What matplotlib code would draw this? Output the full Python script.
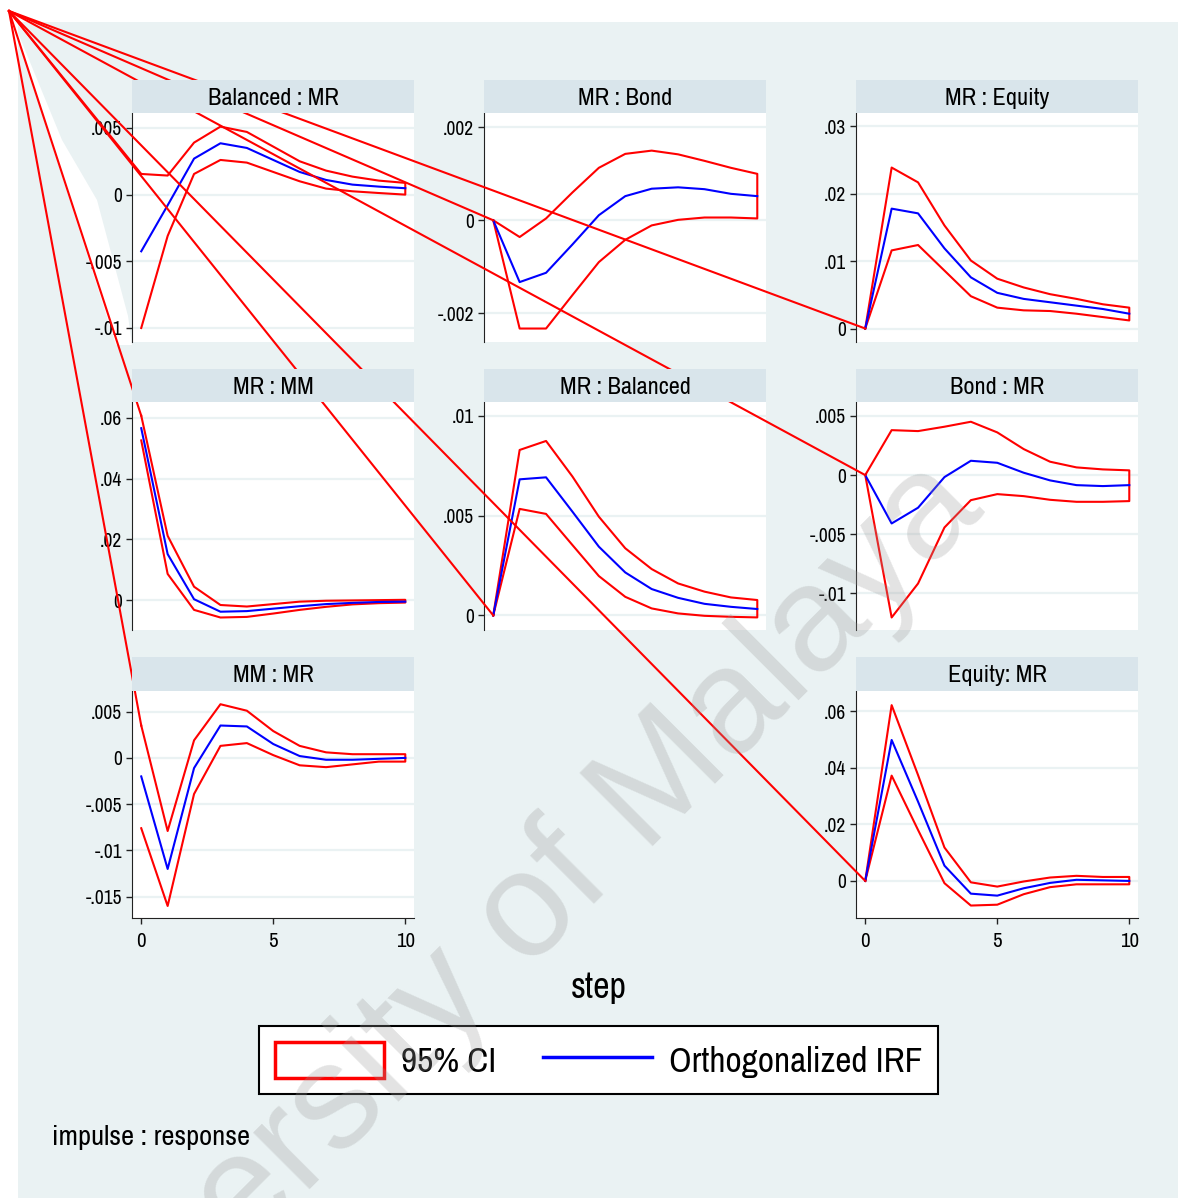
import matplotlib.pyplot as plt
from matplotlib import font_manager
from matplotlib.patches import Patch, Polygon, Rectangle
from matplotlib.lines import Line2D

# Stata draws with a narrow sans; use one if it is installed, else shrink Liberation Sans
names = sorted({f.name for f in font_manager.fontManager.ttflist})
narrow = [n for n in names if 'Narrow' in n] + [n for n in names if 'Condensed' in n]
if narrow:
    plt.rcParams['font.family'] = [narrow[0], 'Liberation Sans', 'DejaVu Sans']
    fs = 1.0
else:
    plt.rcParams['font.family'] = ['Liberation Sans', 'DejaVu Sans']
    fs = 0.85

W, H = 1185, 1198
steps = list(range(11))

titles = ['Balanced : MR', 'MR : Bond', 'MR : Equity', 'MR : MM', 'MR : Balanced',
          'Bond : MR', 'MM : MR', 'Equity: MR']

# Balanced : MR
bal_mr_hi = [0.00155, 0.00143, 0.0039, 0.0051, 0.0047, 0.0036, 0.0025, 0.0018, 0.00135, 0.00105, 0.00088]
bal_mr_irf = [-0.00425, -0.0008, 0.0027, 0.00385, 0.0035, 0.0026, 0.0017, 0.0011, 0.00075, 0.0006, 0.00048]
bal_mr_lo = [-0.01, -0.0031, 0.00155, 0.0026, 0.0024, 0.0017, 0.001, 0.00045, 0.00025, 0.00012, 0.0]
# MR : Bond
mr_bond_hi = [0, -0.00036, 0.00004, 0.0006, 0.00113, 0.00143, 0.0015, 0.00142, 0.00128, 0.00113, 0.001]
mr_bond_irf = [0, -0.00133, -0.00113, -0.00052, 0.00011, 0.00052, 0.00068, 0.00071, 0.00067, 0.00057, 0.00052]
mr_bond_lo = [0, -0.00233, -0.00233, -0.00161, -0.0009, -0.00042, -0.00011, 0.00001, 0.00006, 0.00006, 0.00004]
# MR : Equity
mr_eq_hi = [0, 0.0239, 0.0217, 0.0153, 0.0101, 0.0074, 0.0061, 0.0051, 0.0044, 0.0036, 0.0031]
mr_eq_irf = [0, 0.0178, 0.0171, 0.0119, 0.0076, 0.0053, 0.0044, 0.0039, 0.0034, 0.0029, 0.0022]
mr_eq_lo = [0, 0.0116, 0.0124, 0.0086, 0.0048, 0.0031, 0.0027, 0.0026, 0.0022, 0.0017, 0.0012]
# MR : MM
mr_mm_hi = [0.0606, 0.0212, 0.0045, -0.0015, -0.002, -0.0012, -0.0004, -0.0001, 0.0, 0.0001, 0.0002]
mr_mm_irf = [0.0565, 0.0152, 0.0004, -0.0037, -0.0035, -0.0027, -0.0019, -0.0012, -0.0008, -0.0005, -0.0004]
mr_mm_lo = [0.0525, 0.0087, -0.0031, -0.0056, -0.0054, -0.0043, -0.0031, -0.0021, -0.0013, -0.0009, -0.0007]
# MR : Balanced
mr_bal_hi = [0, 0.00828, 0.00873, 0.00695, 0.00494, 0.00336, 0.00232, 0.0016, 0.00119, 0.0009, 0.00077]
mr_bal_irf = [0, 0.00681, 0.00691, 0.00519, 0.00344, 0.00215, 0.00132, 0.00088, 0.00058, 0.00043, 0.00032]
mr_bal_lo = [0, 0.00533, 0.00508, 0.00352, 0.00197, 0.00093, 0.00035, 0.0001, -0.00002, -0.00007, -0.0001]
# Bond : MR
bond_mr_hi = [0, 0.0038, 0.00372, 0.00409, 0.00451, 0.00361, 0.0022, 0.00113, 0.00065, 0.00048, 0.0004]
bond_mr_irf = [0, -0.00409, -0.00276, -0.00017, 0.00121, 0.00104, 0.0002, -0.00045, -0.00085, -0.00093, -0.00085]
bond_mr_lo = [0, -0.01204, -0.00917, -0.00443, -0.00212, -0.00161, -0.00178, -0.00209, -0.00226, -0.00226, -0.0022]
# MM : MR
mm_mr_hi = [0.0035, -0.0079, 0.0019, 0.0058, 0.0051, 0.0029, 0.0013, 0.0006, 0.0004, 0.0004, 0.0004]
mm_mr_irf = [-0.002, -0.012, -0.0011, 0.0035, 0.0034, 0.0015, 0.0002, -0.0002, -0.0002, -0.0001, 0.0]
mm_mr_lo = [-0.0076, -0.016, -0.0039, 0.0013, 0.0016, 0.0003, -0.0008, -0.001, -0.0007, -0.0004, -0.0004]
# Equity : MR
eq_mr_hi = [0, 0.0621, 0.0374, 0.0118, -0.0005, -0.002, -0.0002, 0.0012, 0.0018, 0.0014, 0.0014]
eq_mr_irf = [0, 0.0498, 0.028, 0.0054, -0.0045, -0.0052, -0.0026, -0.0007, 0.0004, 0.0002, 0.0]
eq_mr_lo = [0, 0.0372, 0.018, -0.0008, -0.0087, -0.0084, -0.0047, -0.0022, -0.0012, -0.0012, -0.0012]

his = [bal_mr_hi, mr_bond_hi, mr_eq_hi, mr_mm_hi, mr_bal_hi, bond_mr_hi, mm_mr_hi, eq_mr_hi]
irfs = [bal_mr_irf, mr_bond_irf, mr_eq_irf, mr_mm_irf, mr_bal_irf, bond_mr_irf, mm_mr_irf, eq_mr_irf]
los = [bal_mr_lo, mr_bond_lo, mr_eq_lo, mr_mm_lo, mr_bal_lo, bond_mr_lo, mm_mr_lo, eq_mr_lo]

yticks = [[-0.01, -0.005, 0, 0.005], [-0.002, 0, 0.002], [0, 0.01, 0.02, 0.03],
          [0, 0.02, 0.04, 0.06], [0, 0.005, 0.01], [-0.01, -0.005, 0, 0.005],
          [-0.015, -0.01, -0.005, 0, 0.005], [0, 0.02, 0.04, 0.06]]
ytlabels = [['-.01', '-.005', '0', '.005'], ['-.002', '0', '.002'], ['0', '.01', '.02', '.03'],
            ['0', '.02', '.04', '.06'], ['0', '.005', '.01'], ['-.01', '-.005', '0', '.005'],
            ['-.015', '-.01', '-.005', '0', '.005'], ['0', '.02', '.04', '.06']]
ylims = [(-0.01105, 0.00612), (-0.00262, 0.00231), (-0.002, 0.032), (-0.0097, 0.0651),
         (-0.00073, 0.01068), (-0.0131, 0.00618), (-0.0173, 0.00723), (-0.0131, 0.0671)]
xticks = [0, 5, 10]

# layout in pixels
cols = [(132, 414), (484, 766), (856, 1138)]
rows = [(80, 113, 342), (369, 402, 630), (657, 691, 918)]
cells = [(0, 0), (1, 0), (2, 0), (0, 1), (1, 1), (2, 1), (0, 2), (2, 2)]

BG = '#eaf2f3'
BAR = '#d9e5eb'


def box(x0, y0, x1, y1):
    return [x0 / W, 1 - y1 / H, (x1 - x0) / W, (y1 - y0) / H]


fig = plt.figure(figsize=(W / 100, H / 100), dpi=100, facecolor='white')

bg = fig.add_axes([0, 0, 1, 1], zorder=0)
bg.set_xlim(0, W)
bg.set_ylim(H, 0)
bg.axis('off')
bg.add_patch(Rectangle((18, 22), 1160, 1180, color=BG, lw=0))
bg.add_patch(Polygon([(9, 11), (62, 140), (97, 200), (128, 316), (132, 345), (116, 345)],
                     closed=True, color='white', lw=0))

ov = fig.add_axes([0, 0, 1, 1], zorder=2)
ov.set_xlim(0, W)
ov.set_ylim(H, 0)
ov.axis('off')
ov.patch.set_alpha(0)

for i, (c, r) in enumerate(cells):
    x0, x1 = cols[c]
    t0, p0, p1 = rows[r]
    ax = fig.add_axes(box(x0, p0, x1, p1), zorder=1)
    ax.set_facecolor('white')
    ax.plot(steps + steps[::-1], his[i] + los[i][::-1], color='red', lw=1.5)
    ax.plot(steps, irfs[i], color='blue', lw=1.5)
    ax.set_xlim(-0.35, 10.33)
    ax.set_ylim(*ylims[i])
    ax.set_yticks(yticks[i])
    ax.set_yticklabels(ytlabels[i])
    ax.yaxis.grid(True, color=BG, lw=1.6)
    ax.set_axisbelow(True)
    for s in ['top', 'right']:
        ax.spines[s].set_visible(False)
    ax.spines['left'].set_color('#222222')
    ax.tick_params(axis='y', length=4, width=1, labelsize=14 * fs, pad=3, color='#222222')
    if r == 2:
        ax.set_xticks(xticks)
        ax.tick_params(axis='x', length=4, width=1, labelsize=15 * fs, pad=6, color='#222222')
        ax.spines['bottom'].set_color('#222222')
    else:
        ax.set_xticks([])
        ax.spines['bottom'].set_visible(False)

    # stray path from the page corner to the start of the CI outline
    dx, dy = ax.transData.transform((steps[0], his[i][0]))
    ov.plot([9, dx], [11, H - dy], color='red', lw=1.5)

    tax = fig.add_axes(box(x0, t0, x1, p0), zorder=3)
    tax.set_facecolor(BAR)
    tax.set_xticks([])
    tax.set_yticks([])
    for s in tax.spines.values():
        s.set_visible(False)
    tax.text(0.5, 0.45, titles[i], ha='center', va='center', fontsize=17.5 * fs,
             transform=tax.transAxes)

fig.text(599 / W, 1 - 987 / H, 'step', ha='center', va='center', fontsize=26 * fs)
fig.text(52 / W, 1 - 1137 / H, 'impulse : response', ha='left', va='center', fontsize=20.5 * fs)

handles = [Patch(facecolor='white', edgecolor='red', linewidth=2.5),
           Line2D([], [], color='blue', lw=2.5)]
leg_fs = 25.5 * fs
leg = fig.legend(handles, ['95% CI', 'Orthogonalized IRF'], ncol=2, loc='center',
                 bbox_to_anchor=(598.5 / W, 1 - 1060 / H), fontsize=leg_fs,
                 frameon=True, fancybox=False, edgecolor='black', framealpha=1,
                 handlelength=3.08 * 25.5 / leg_fs, handleheight=1.16 * 25.5 / leg_fs,
                 handletextpad=0.48 * 25.5 / leg_fs, columnspacing=1.33 * 25.5 / leg_fs,
                 borderpad=0.45 * 25.5 / leg_fs)
leg.get_frame().set_linewidth(1.5)

fig.text(482 / W, 1 - 962 / H, 'University of Malaya', ha='center', va='center',
         rotation=45, rotation_mode='anchor', fontsize=108, color='#9a9a9a', alpha=0.28,
         family=['Liberation Sans', 'DejaVu Sans'], zorder=6)

fig.savefig('out.png', dpi=100, facecolor='white')
